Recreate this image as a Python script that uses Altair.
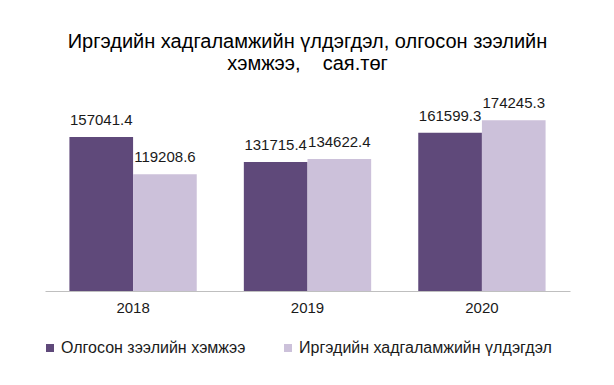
import altair as alt
import pandas as pd

years = ["2018", "2019", "2020"]
series = ["Олгосон зээлийн хэмжээ", "Иргэдийн хадгаламжийн үлдэгдэл"]
loans = [157041.4, 131715.4, 161599.3]
savings = [119208.6, 134622.4, 174245.3]
colors = ["#5F497A", "#CCC1DA"]

rows = []
for i, y in enumerate(years):
    rows.append({"year": y, "series": series[0], "value": loans[i], "label": f"{loans[i]:.1f}"})
    rows.append({"year": y, "series": series[1], "value": savings[i], "label": f"{savings[i]:.1f}"})
df = pd.DataFrame(rows)

FONT = "Liberation Sans"

base = alt.Chart(df).encode(
    x=alt.X("year:N", sort=years, title=None,
            scale=alt.Scale(paddingInner=0.27, paddingOuter=0.14),
            axis=alt.Axis(labelAngle=0, ticks=False, domainColor="#BFBFBF", domainWidth=1,
                          labelFontSize=15, labelFont=FONT, labelColor="#1a1a1a",
                          labelPadding=9, grid=False)),
    xOffset=alt.XOffset("series:N", sort=series, scale=alt.Scale(paddingInner=0, paddingOuter=0)),
    y=alt.Y("value:Q", title=None, axis=None, scale=alt.Scale(domain=[0, 200000])),
)

bars = base.mark_bar().encode(
    color=alt.Color("series:N", sort=series, title=None,
                    scale=alt.Scale(domain=series, range=colors),
                    legend=alt.Legend(orient="none", legendX=-3, legendY=245, direction="horizontal",
                                      symbolType="square", symbolSize=64, symbolStrokeWidth=0,
                                      labelFontSize=16, labelFont=FONT, labelColor="#1a1a1a",
                                      columnPadding=34, labelOffset=3, labelLimit=400))
)

labels = base.mark_text(baseline="bottom", dy=-9, fontSize=15, font=FONT, color="#1a1a1a").encode(
    text="label:N"
)

chart = (bars + labels).properties(
    width=525, height=196,
    background="white",
    title=alt.TitleParams(
        text=["Иргэдийн хадгаламжийн үлдэгдэл, олгосон зээлийн",
              "хэмжээ,\u00a0\u00a0\u00a0\u00a0сая.төг"],
        fontSize=20, font=FONT, fontWeight="normal", color="#000000",
        anchor="middle", offset=21, lineHeight=22),
    autosize=alt.AutoSizeParams(type="none"),
    padding={"left": 37, "top": 87, "right": 30, "bottom": 80},
).configure_view(strokeWidth=0, stroke="transparent")

chart.save("out.html", embed_options={"renderer": "svg", "actions": False})
